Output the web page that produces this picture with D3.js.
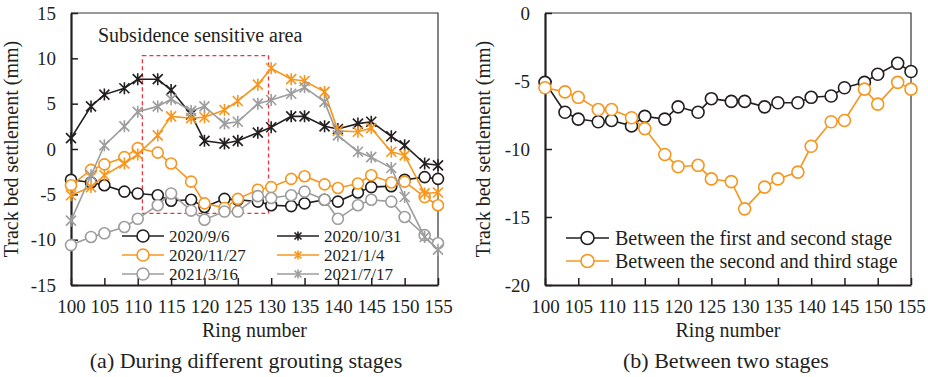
<!DOCTYPE html>
<html>
<head>
<meta charset="utf-8">
<title>Track bed settlement</title>
<script src="https://d3js.org/d3.v7.min.js"></script>
<style>
  body { margin: 0; background: #fff; }
</style>
</head>
<body>
<script>
// ring numbers where settlement was measured
var rings = [100, 103, 105, 108, 110, 113, 115, 118, 120, 123, 125, 128, 130, 133, 135, 138, 140, 143, 145, 148, 150, 153, 155];

// (a) settlement at each survey date (mm)
var s20200906 = [-3.4, -3.7, -4.0, -4.7, -4.9, -5.1, -5.7, -5.6, -6.4, -5.5, -5.6, -5.8, -6.2, -6.3, -6.0, -5.6, -5.8, -4.8, -4.2, -4.1, -3.4, -3.1, -3.3];
var s20201031 = [1.2, 4.7, 6.0, 6.7, 7.7, 7.7, 6.5, 3.8, 0.9, 0.6, 0.9, 1.8, 2.4, 3.6, 3.6, 2.5, 2.2, 2.8, 3.0, 1.4, 0.4, -1.6, -1.8];
var s20201127 = [-4.0, -2.3, -1.7, -0.9, 0.1, -0.4, -1.6, -3.6, -6.0, -6.5, -5.5, -4.5, -4.2, -3.3, -3.0, -3.9, -4.3, -3.8, -2.9, -3.7, -3.6, -5.3, -6.2];
var s20210104 = [-5.1, -4.2, -2.9, -1.6, -0.6, 1.5, 3.6, 3.4, 3.5, 4.3, 5.3, 7.1, 8.9, 7.7, 7.5, 6.3, 2.0, 1.9, 2.3, -0.3, -0.7, -4.9, -4.8];
var s20210316 = [-10.6, -9.7, -9.3, -8.6, -7.7, -6.2, -4.9, -6.8, -7.8, -6.9, -6.9, -5.2, -5.4, -5.1, -4.7, -5.6, -7.7, -6.2, -5.6, -5.8, -7.5, -9.5, -10.4];
var s20210717 = [-7.9, -2.9, 0.4, 2.5, 4.1, 4.7, 5.5, 4.2, 4.7, 2.8, 3.0, 5.0, 5.4, 6.1, 6.8, 5.2, 1.5, -0.3, -0.9, -2.1, -5.3, -9.7, -11.1];

// (b) settlement difference between stages (mm)
var firstToSecond = [-5.1, -7.3, -7.8, -8.0, -7.9, -8.3, -7.6, -7.8, -6.9, -7.3, -6.3, -6.5, -6.5, -6.9, -6.6, -6.6, -6.2, -6.1, -5.5, -5.1, -4.5, -3.7, -4.3];
var secondToThird = [-5.5, -5.8, -6.2, -7.1, -7.1, -7.7, -8.5, -10.4, -11.3, -11.2, -12.2, -12.4, -14.4, -12.8, -12.2, -11.7, -9.8, -8.0, -7.9, -5.6, -6.7, -5.1, -5.6];

var xTicks = [100, 105, 110, 115, 120, 125, 130, 135, 140, 145, 150, 155];
var yTicksA = [-15, -10, -5, 0, 5, 10, 15];
var yTicksB = [-20, -15, -10, -5, 0];

// subsidence sensitive zone (ring range, settlement range)
var zoneRings = [110.7, 129.6];
var zoneMm = [-7.1, 10.3];

var FONT = "Liberation Serif";
var black = "#231f20", orange = "#f7961f", gray = "#9d9d9d";

var seriesA = [
  { name: "2020/9/6", values: s20200906, color: black, marker: "circle" },
  { name: "2020/10/31", values: s20201031, color: black, marker: "star" },
  { name: "2020/11/27", values: s20201127, color: orange, marker: "circle" },
  { name: "2021/1/4", values: s20210104, color: orange, marker: "star" },
  { name: "2021/3/16", values: s20210316, color: gray, marker: "circle" },
  { name: "2021/7/17", values: s20210717, color: gray, marker: "star" }
];
var seriesB = [
  { name: "Between the first and second stage", values: firstToSecond, color: black, marker: "circle" },
  { name: "Between the second and third stage", values: secondToThird, color: orange, marker: "circle" }
];

var svg = d3.select("body").append("svg").attr("width", 928).attr("height", 377);

function starPath(s) {
  return "M" + (-s) + "," + (-s) + "L" + s + "," + s +
         "M" + (-s) + "," + s + "L" + s + "," + (-s) +
         "M0," + (-s - 1) + "L0," + (s + 1);
}

function addMarker(sel, type, color, size) {
  if (type === "circle") {
    sel.append("circle").attr("r", size).attr("fill", "#fff")
      .attr("stroke", color).attr("stroke-width", 1.6);
  } else {
    sel.append("path").attr("d", starPath(size)).attr("fill", "none")
      .attr("stroke", color).attr("stroke-width", 1.6);
  }
}

function label(g, x, y, size, str) {
  return g.append("text").attr("x", x).attr("y", y).attr("font-size", size)
    .style("font-family", FONT).attr("fill", black).text(str);
}

function panel(cfg) {
  var x = d3.scaleLinear().domain([100, 155]).range([cfg.left, cfg.right]);
  var y = d3.scaleLinear().domain(cfg.yDomain).range([285, 13]);
  var g = svg.append("g");

  // thin frame on top and right
  g.append("path")
    .attr("d", "M" + x(100) + "," + y.range()[1] + "H" + x(155) + "V" + y.range()[0])
    .attr("fill", "none").attr("stroke", "#333").attr("stroke-width", 1.2);

  var ax = g.append("g").attr("transform", "translate(0,285)")
    .call(d3.axisBottom(x).tickValues(xTicks).tickSizeInner(-7).tickSizeOuter(0)
      .tickPadding(15).tickFormat(function(d) { return d; }));
  var ay = g.append("g").attr("transform", "translate(" + cfg.left + ",0)")
    .call(d3.axisLeft(y).tickValues(cfg.yTicks).tickSizeInner(-7).tickSizeOuter(0)
      .tickPadding(15).tickFormat(function(d) { return String(d); }));
  [ax, ay].forEach(function(a) {
    a.attr("font-family", FONT).attr("font-size", 19);
    a.select(".domain").attr("stroke", black).attr("stroke-width", 2.2);
    a.selectAll(".tick line").attr("stroke", black).attr("stroke-width", 1.5);
    a.selectAll("text").style("font-family", FONT).attr("fill", black);
  });

  label(g, (cfg.left + cfg.right) / 2, 337, 20, "Ring number").attr("text-anchor", "middle");
  label(g, 0, 0, 20, "Track bed settlement (mm)").attr("text-anchor", "middle")
    .attr("transform", "translate(" + cfg.yTitleX + "," + 149 + ") rotate(-90)");
  label(g, cfg.captionX, 368, 22, cfg.caption).attr("text-anchor", "middle");

  return { g: g, x: x, y: y };
}

function drawSeries(p, list, size) {
  var line = d3.line().x(function(d, i) { return p.x(rings[i]); }).y(function(d) { return p.y(d); });
  list.forEach(function(s) {
    var sg = p.g.append("g");
    sg.append("path").datum(s.values).attr("d", line).attr("fill", "none")
      .attr("stroke", s.color).attr("stroke-width", 1.6);
    sg.selectAll("g.pt").data(s.values).enter().append("g").attr("class", "pt")
      .attr("transform", function(d, i) { return "translate(" + p.x(rings[i]) + "," + p.y(d) + ")"; })
      .each(function() { addMarker(d3.select(this), s.marker, s.color, s.marker === "circle" ? size : 5); });
  });
}

// (a) during different grouting stages
var pa = panel({ left: 71, right: 438, yDomain: [-15, 15], yTicks: yTicksA, yTitleX: 18,
  captionX: 246, caption: "(a) During different grouting stages" });

pa.g.append("rect")
  .attr("x", pa.x(zoneRings[0])).attr("y", pa.y(zoneMm[1]))
  .attr("width", pa.x(zoneRings[1]) - pa.x(zoneRings[0]))
  .attr("height", pa.y(zoneMm[0]) - pa.y(zoneMm[1]))
  .attr("fill", "none").attr("stroke", "#f0323c").attr("stroke-width", 1.3)
  .attr("stroke-dasharray", "4,3");
label(pa.g, 98, 42, 20, "Subsidence sensitive area");

drawSeries(pa, seriesA, 5.5);

// two-column legend, three rows
var legA = pa.g.selectAll("g.leg").data(seriesA).enter().append("g").attr("class", "leg")
  .attr("transform", function(d, i) {
    return "translate(" + (i % 2 === 0 ? 122 : 277) + "," + (236 + Math.floor(i / 2) * 19) + ")";
  });
legA.append("line").attr("x1", 0).attr("x2", 42).attr("stroke", function(d) { return d.color; })
  .attr("stroke-width", 1.6);
legA.each(function(d) {
  var m = d3.select(this).append("g").attr("transform", "translate(21,0)");
  addMarker(m, d.marker, d.color, d.marker === "circle" ? 6 : 3.5);
  label(d3.select(this), 47, 6, 17, d.name);
});

// (b) between two stages
var pb = panel({ left: 545, right: 911, yDomain: [-20, 0], yTicks: yTicksB, yTitleX: 490,
  captionX: 726, caption: "(b) Between two stages" });

drawSeries(pb, seriesB, 6);

var legB = pb.g.selectAll("g.leg").data(seriesB).enter().append("g").attr("class", "leg")
  .attr("transform", function(d, i) { return "translate(566," + (238 + i * 23) + ")"; });
legB.append("line").attr("x1", 0).attr("x2", 43).attr("stroke", function(d) { return d.color; })
  .attr("stroke-width", 1.6);
legB.each(function(d) {
  addMarker(d3.select(this).append("g").attr("transform", "translate(21.5,0)"), d.marker, d.color, 6.5);
  label(d3.select(this), 49, 7, 20, d.name);
});
</script>
</body>
</html>
